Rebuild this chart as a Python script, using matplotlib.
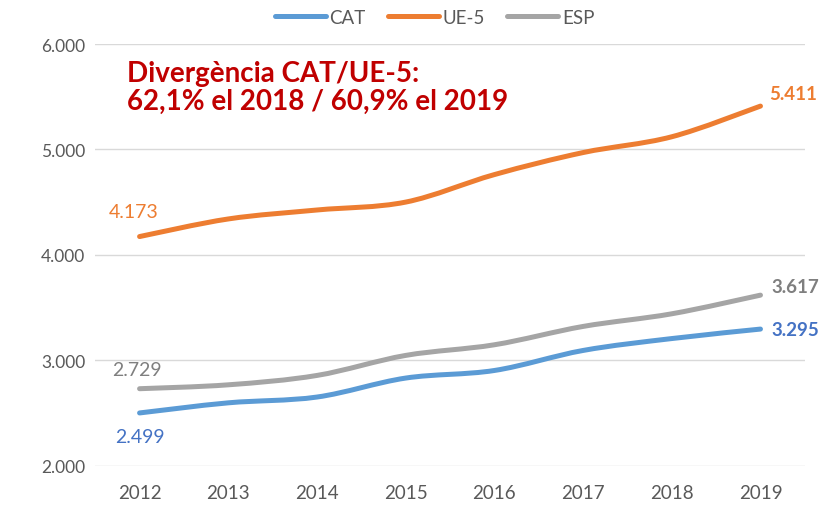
import matplotlib
matplotlib.use("Agg")
import matplotlib.pyplot as plt
from matplotlib.path import Path
from matplotlib.patches import PathPatch
from matplotlib.lines import Line2D
import numpy as np

plt.rcParams['font.family'] = ['Lato', 'DejaVu Sans']

years = [2012, 2013, 2014, 2015, 2016, 2017, 2018, 2019]
cat = [2499, 2595, 2650, 2830, 2902, 3092, 3205, 3295]
ue5 = [4173, 4340, 4425, 4500, 4761, 4970, 5120, 5411]
esp = [2729, 2766, 2855, 3045, 3146, 3320, 3440, 3617]
series_names = ['CAT', 'UE-5', 'ESP']
yticks = [2000, 3000, 4000, 5000, 6000]

colors = {'CAT': '#5B9BD5', 'UE-5': '#ED7D31', 'ESP': '#A5A5A5'}
label_colors = {'CAT': '#4472C4', 'UE-5': '#ED7D31', 'ESP': '#7F7F7F'}


def smooth_path(x, y):
    # Catmull-Rom style bezier, like Excel's smoothed lines
    x = np.asarray(x, float)
    y = np.asarray(y, float)
    verts = [(x[0], y[0])]
    codes = [Path.MOVETO]
    n = len(x)
    for i in range(n - 1):
        p0 = (x[max(i - 1, 0)], y[max(i - 1, 0)])
        p1 = (x[i], y[i])
        p2 = (x[i + 1], y[i + 1])
        p3 = (x[min(i + 2, n - 1)], y[min(i + 2, n - 1)])
        c1 = (p1[0] + (p2[0] - p0[0]) / 6, p1[1] + (p2[1] - p0[1]) / 6)
        c2 = (p2[0] - (p3[0] - p1[0]) / 6, p2[1] - (p3[1] - p1[1]) / 6)
        verts += [c1, c2, p2]
        codes += [Path.CURVE4] * 3
    return Path(verts, codes)


def fmt(v):
    return f"{v:,}".replace(",", ".")


fig = plt.figure(figsize=(8.28, 5.06), dpi=100)
ax = fig.add_axes([0.115, 0.078, 0.857, 0.833])

data = {'CAT': cat, 'UE-5': ue5, 'ESP': esp}
for name in series_names:
    patch = PathPatch(smooth_path(years, data[name]), facecolor='none',
                      edgecolor=colors[name], lw=3.6, capstyle='round',
                      joinstyle='round', zorder=3)
    ax.add_patch(patch)

ax.set_xlim(2011.5, 2019.5)
ax.set_ylim(2000, 6000)
ax.set_xticks(years)
ax.set_xticklabels([str(y) for y in years])
ax.set_yticks(yticks)
ax.set_yticklabels([fmt(v) for v in yticks])
ax.tick_params(length=0, labelsize=12.5, labelcolor='#595959')
ax.tick_params(axis='x', pad=13, labelsize=13.5)
ax.tick_params(axis='y', pad=7)
ax.grid(axis='y', color='#D9D9D9', lw=1)
ax.set_axisbelow(True)
for s in ax.spines.values():
    s.set_visible(False)

# data labels
first_off = {'CAT': (0, -17), 'UE-5': (-4, 18), 'ESP': (-2, 14)}
last_off = {'CAT': (8, 0), 'UE-5': (6, 9), 'ESP': (8, 6)}
for name in series_names:
    vals = data[name]
    ax.annotate(fmt(vals[0]), (years[0], vals[0]), xytext=first_off[name],
                textcoords='offset points', ha='center', va='center',
                fontsize=14, color=label_colors[name])
    ax.annotate(fmt(vals[-1]), (years[-1], vals[-1]), xytext=last_off[name],
                textcoords='offset points', ha='left', va='center',
                fontsize=13.5, fontweight='bold', color=label_colors[name])

fig.text(127 / 828, 1 - 88 / 506, "Divergència CAT/UE-5:\n62,1% el 2018 / 60,9% el 2019",
         fontsize=20, fontweight='bold', color='#C00000', ha='left', va='center',
         linespacing=1.05)

handles = [Line2D([], [], color=colors[n], lw=3.6, solid_capstyle='round') for n in series_names]
fig.legend(handles, series_names, loc='center', bbox_to_anchor=(0.525, 1 - 18 / 506),
           ncol=3, frameon=False, fontsize=13.5, labelcolor='#595959',
           handlelength=2.7, handletextpad=0.2, columnspacing=1.2)

fig.savefig('out.png', dpi=100)
